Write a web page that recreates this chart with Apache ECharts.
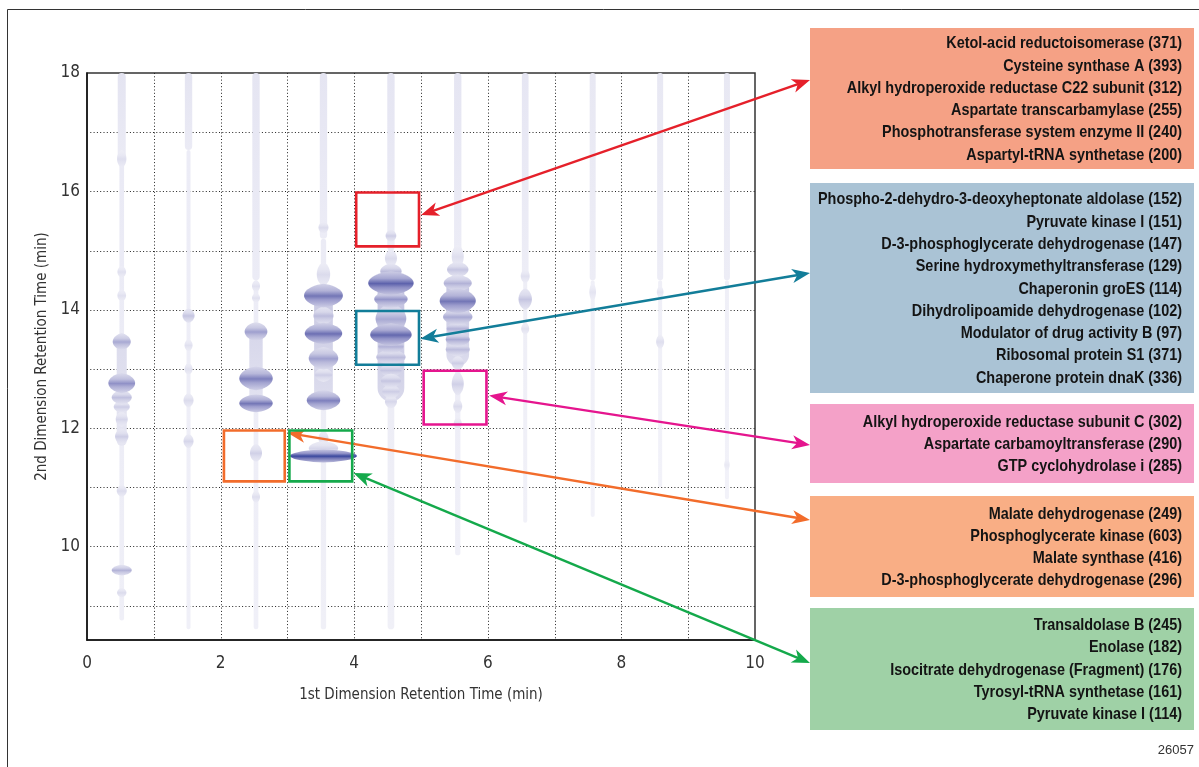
<!DOCTYPE html>
<html><head><meta charset="utf-8">
<script src="https://cdn.jsdelivr.net/npm/echarts@6/dist/echarts.min.js"></script>
<style>html,body{margin:0;padding:0;background:#fff}#c{width:1199px;height:767px}</style>
</head><body><div id="c"></div>
<script>
// ---------------- DATA ----------------
const xTickLabels = [0, 2, 4, 6, 8, 10];
const yTickLabels = [10, 12, 14, 16, 18];
const gridXs = [1, 2, 3, 4, 5, 6, 7, 8, 9];
const gridYs = [9, 10, 11, 12, 13, 14, 15, 16, 17];
const xTitle = '1st Dimension Retention Time (min)';
const yTitle = '2nd Dimension Retention Time (min)';
// modulation streaks: [x, yTop, yBottom, width (min), intensity]
const streaks = [
  [0.52, 18, 16.5, 0.12, 0.15], [0.52, 16.5, 8.75, 0.07, 0.1], [0.52, 13.6, 11.7, 0.15, 0.22],
  [1.52, 18, 16.7, 0.11, 0.15], [1.52, 16.7, 8.6, 0.06, 0.08],
  [2.53, 18, 14.5, 0.11, 0.14], [2.53, 14.5, 8.6, 0.07, 0.08], [2.53, 13.7, 12.3, 0.2, 0.25],
  [3.54, 18, 15.2, 0.11, 0.14], [3.54, 15.2, 8.6, 0.08, 0.09], [3.54, 14.35, 12.35, 0.28, 0.33],
  [4.55, 18, 15.0, 0.11, 0.14], [4.55, 15.0, 8.6, 0.1, 0.09], [4.55, 14.55, 12.45, 0.4, 0.38],
  [5.55, 18, 15.0, 0.11, 0.14], [5.55, 15.0, 9.85, 0.08, 0.08], [5.55, 14.55, 13.05, 0.34, 0.35],
  [6.56, 18, 14.6, 0.1, 0.13], [6.56, 14.6, 10.4, 0.06, 0.07],
  [7.57, 18, 14.5, 0.09, 0.12], [7.57, 14.5, 10.5, 0.06, 0.06],
  [8.58, 18, 14.5, 0.09, 0.12], [8.58, 14.5, 11.0, 0.06, 0.06],
  [9.58, 18, 14.5, 0.09, 0.12], [9.58, 14.5, 10.8, 0.06, 0.06]
];
// peaks: [x, y, halfWidth (min), halfHeight (min), intensity]
const peaks = [
  [0.52, 16.55, 0.07, 0.15, 0.2], [0.52, 14.64, 0.065, 0.1, 0.18], [0.52, 14.24, 0.065, 0.1, 0.18],
  [0.52, 13.46, 0.135, 0.14, 0.5], [0.52, 12.76, 0.2, 0.17, 0.62], [0.52, 12.52, 0.15, 0.12, 0.38],
  [0.52, 12.36, 0.12, 0.1, 0.3], [0.52, 12.15, 0.09, 0.13, 0.25], [0.52, 11.86, 0.1, 0.13, 0.3],
  [0.52, 10.94, 0.075, 0.1, 0.22], [0.52, 9.6, 0.15, 0.09, 0.45], [0.52, 9.22, 0.07, 0.08, 0.22],
  [1.52, 13.9, 0.09, 0.12, 0.35], [1.52, 13.4, 0.06, 0.1, 0.18], [1.52, 13.0, 0.06, 0.1, 0.18],
  [1.52, 12.47, 0.075, 0.12, 0.22], [1.52, 11.78, 0.075, 0.12, 0.25],
  [2.53, 14.4, 0.06, 0.1, 0.18], [2.53, 14.2, 0.06, 0.08, 0.18], [2.53, 13.63, 0.17, 0.16, 0.55],
  [2.53, 12.84, 0.25, 0.2, 0.7], [2.53, 12.42, 0.25, 0.15, 0.75], [2.53, 11.58, 0.09, 0.15, 0.28],
  [2.53, 10.84, 0.06, 0.1, 0.2],
  [3.54, 15.39, 0.075, 0.1, 0.22], [3.54, 14.6, 0.1, 0.2, 0.22], [3.54, 14.24, 0.29, 0.2, 0.75],
  [3.54, 13.9, 0.15, 0.15, 0.4], [3.54, 13.6, 0.28, 0.18, 0.78], [3.54, 13.18, 0.22, 0.19, 0.55],
  [3.54, 12.9, 0.13, 0.12, 0.3], [3.54, 12.47, 0.25, 0.17, 0.7], [3.54, 11.83, 0.075, 0.12, 0.22],
  [3.54, 11.66, 0.22, 0.12, 0.25], [3.54, 11.53, 0.5, 0.11, 1.0],
  [4.55, 15.25, 0.08, 0.1, 0.3], [4.55, 14.87, 0.09, 0.15, 0.22], [4.55, 14.65, 0.16, 0.13, 0.4],
  [4.55, 14.45, 0.34, 0.2, 0.85], [4.55, 14.18, 0.25, 0.15, 0.6], [4.55, 13.85, 0.23, 0.25, 0.5],
  [4.55, 13.58, 0.31, 0.19, 0.82], [4.55, 13.38, 0.19, 0.12, 0.45], [4.55, 13.2, 0.22, 0.13, 0.4],
  [4.55, 12.98, 0.16, 0.12, 0.35], [4.55, 12.8, 0.15, 0.12, 0.35], [4.55, 12.62, 0.13, 0.12, 0.3],
  [4.55, 12.45, 0.09, 0.12, 0.25],
  [5.55, 14.9, 0.09, 0.2, 0.2], [5.55, 14.68, 0.16, 0.13, 0.35], [5.55, 14.45, 0.21, 0.14, 0.45],
  [5.55, 14.15, 0.27, 0.21, 0.75], [5.55, 13.88, 0.22, 0.14, 0.5], [5.55, 13.68, 0.165, 0.12, 0.45],
  [5.55, 13.5, 0.18, 0.12, 0.5], [5.55, 13.33, 0.18, 0.12, 0.4], [5.55, 13.1, 0.09, 0.12, 0.3],
  [5.55, 12.75, 0.09, 0.2, 0.28], [5.55, 12.37, 0.067, 0.12, 0.22], [5.55, 12.08, 0.06, 0.1, 0.2],
  [6.56, 14.57, 0.067, 0.12, 0.18], [6.56, 14.18, 0.1, 0.18, 0.35], [6.56, 13.68, 0.06, 0.1, 0.18],
  [7.57, 14.3, 0.05, 0.15, 0.15],
  [8.58, 14.3, 0.05, 0.1, 0.15], [8.58, 13.46, 0.06, 0.12, 0.2],
  [9.58, 11.38, 0.04, 0.1, 0.12]
];
// highlighted regions: [x0, x1, y0, y1]
const regionBoxes = [
  [4.03, 4.97, 15.07, 15.98],
  [4.03, 4.97, 13.07, 13.98],
  [5.04, 5.98, 12.06, 12.97],
  [2.05, 2.96, 11.10, 11.96],
  [3.03, 3.97, 11.10, 11.96]
];
// arrow anchor points at the regions: [x, y]
const arrowTips = [[5.0, 15.6], [4.99, 13.51], [6.02, 12.55], [3.0, 11.92], [3.99, 11.24]];
const regionColors = ['#E5202A', '#127D99', '#E5158E', '#F26C2B', '#14A94B'];
const legendColors = ['#F5A185', '#AAC3D5', '#F4A1C8', '#F9AE85', '#9FD1A6'];
const groupRed = ['Ketol-acid reductoisomerase (371)', 'Cysteine synthase A (393)', 'Alkyl hydroperoxide reductase C22 subunit (312)', 'Aspartate transcarbamylase (255)', 'Phosphotransferase system enzyme II (240)', 'Aspartyl-tRNA synthetase (200)'];
const groupTeal = ['Phospho-2-dehydro-3-deoxyheptonate aldolase (152)', 'Pyruvate kinase I (151)', 'D-3-phosphoglycerate dehydrogenase (147)', 'Serine hydroxymethyltransferase (129)', 'Chaperonin groES (114)', 'Dihydrolipoamide dehydrogenase (102)', 'Modulator of drug activity B (97)', 'Ribosomal protein S1 (371)', 'Chaperone protein dnaK (336)'];
const groupMagenta = ['Alkyl hydroperoxide reductase subunit C (302)', 'Aspartate carbamoyltransferase (290)', 'GTP cyclohydrolase i (285)'];
const groupOrange = ['Malate dehydrogenase (249)', 'Phosphoglycerate kinase (603)', 'Malate synthase (416)', 'D-3-phosphoglycerate dehydrogenase (296)'];
const groupGreen = ['Transaldolase B (245)', 'Enolase (182)', 'Isocitrate dehydrogenase (Fragment) (176)', 'Tyrosyl-tRNA synthetase (161)', 'Pyruvate kinase I (114)'];
const figureId = '26057';

// ---------------- LAYOUT / STYLE ----------------
const groups = [groupRed, groupTeal, groupMagenta, groupOrange, groupGreen];
const FONT = '"DejaVu Sans Condensed","Liberation Sans Narrow",sans-serif';
const LEG_FONT = 'bold 16.5px "Liberation Sans", Arial, sans-serif';
const X_MIN = 0, X_MAX = 10, Y_MIN = 8.42, Y_MAX = 18;
const legendLeft = 810, legendWidth = 384, textRight = 1182, lineH = 22.3;
const legendTops = [28, 183, 404, 496, 608];
const legendHeights = [141, 210, 79, 101, 122];
const arrowTargetY = [80, 273, 445, 520, 663];
const widestLinePx = 364; // width of the longest legend line in the reference

const mctx = document.createElement('canvas').getContext('2d');
mctx.font = LEG_FONT;
const legScaleX = widestLinePx / mctx.measureText(groupTeal[0]).width;

const ramp = [[0, [246, 246, 251]], [0.2, [222, 222, 238]], [0.4, [188, 188, 220]], [0.6, [148, 149, 201]], [0.8, [104, 107, 176]], [1.0, [58, 72, 158]]];
function shade(s) {
  s = Math.max(0, Math.min(1, s));
  for (let i = 1; i < ramp.length; i++) {
    if (s <= ramp[i][0]) {
      const a = ramp[i - 1], b = ramp[i], t = (s - a[0]) / (b[0] - a[0]);
      const c = a[1].map((v, k) => Math.round(v + (b[1][k] - v) * t));
      return 'rgb(' + c.join(',') + ')';
    }
  }
  return 'rgb(58,72,158)';
}

const chart = echarts.init(document.getElementById('c'), null, { renderer: 'canvas' });

function gridRender(params, api) {
  const cs = params.coordSys;
  const dir = api.value(0), v = api.value(1);
  let shape;
  if (dir === 0) {
    const x = Math.round(api.coord([v, Y_MIN])[0]) + 0.5;
    shape = { x1: x, y1: cs.y, x2: x, y2: cs.y + cs.height };
  } else {
    const y = Math.round(api.coord([X_MIN, v])[1]) + 0.5;
    shape = { x1: cs.x, y1: y, x2: cs.x + cs.width, y2: y };
  }
  return { type: 'line', shape, style: { stroke: '#222', lineWidth: 1, lineDash: [1, 2.3] }, silent: true };
}
const gridData = gridXs.map(v => [0, v]).concat(gridYs.map(v => [1, v]));

function streakRender(params, api) {
  const x = api.value(0), yt = api.value(1), yb = api.value(2), w = api.value(3), s = api.value(4);
  const p1 = api.coord([x, yt]), p2 = api.coord([x, yb]);
  const pw = api.size([w, 0])[0];
  return {
    type: 'rect', shape: { x: p1[0] - pw / 2, y: p1[1], width: pw, height: p2[1] - p1[1], r: pw / 2 },
    style: { fill: new echarts.graphic.LinearGradient(0, 0, 0, 1, [{ offset: 0, color: shade(s) }, { offset: 1, color: shade(s * 0.6) }]) },
    silent: true
  };
}

function peakRender(params, api) {
  const x = api.value(0), y = api.value(1), hw = api.value(2), hh = api.value(3), s = api.value(4);
  const c = api.coord([x, y]);
  const pw = api.size([hw, 0])[0], ph = api.size([0, hh])[1];
  const N = 24, right = [], left = [];
  for (let i = 0; i <= N; i++) {
    const t = -1 + 2 * i / N;
    const f = Math.pow(1 - t * t, 0.65);
    right.push([c[0] + pw * f, c[1] + ph * t]);
    left.unshift([c[0] - pw * f, c[1] + ph * t]);
  }
  return {
    type: 'polygon', shape: { points: right.concat(left) },
    style: {
      fill: new echarts.graphic.LinearGradient(0, 0, 0, 1, [
        { offset: 0, color: shade(s * 0.35) }, { offset: 0.3, color: shade(s * 0.6) },
        { offset: 0.52, color: shade(s) }, { offset: 0.68, color: shade(s * 0.75) }, { offset: 1, color: shade(s * 0.4) }])
    },
    silent: true
  };
}

function arrowHead(tip, from) {
  const dx = tip[0] - from[0], dy = tip[1] - from[1], L = Math.hypot(dx, dy);
  const ux = dx / L, uy = dy / L, nx = -uy, ny = ux;
  const len = 18, hw = 7, notch = 5;
  const bx = tip[0] - ux * len, by = tip[1] - uy * len;
  return [tip, [bx + nx * hw, by + ny * hw], [tip[0] - ux * (len - notch), tip[1] - uy * (len - notch)], [bx - nx * hw, by - ny * hw]];
}

function regionRender(params, api) {
  const i = params.dataIndex;
  const col = regionColors[i];
  const a = api.coord([api.value(0), api.value(2)]), bb = api.coord([api.value(1), api.value(3)]);
  const x0 = Math.min(a[0], bb[0]), y0 = Math.min(a[1], bb[1]);
  const w = Math.abs(bb[0] - a[0]), h = Math.abs(bb[1] - a[1]);
  const tipA = api.coord([api.value(4), api.value(5)]);
  const tipB = [legendLeft, arrowTargetY[i]];
  const dx = tipB[0] - tipA[0], dy = tipB[1] - tipA[1], L = Math.hypot(dx, dy);
  const ux = dx / L, uy = dy / L, back = 12;
  return {
    type: 'group', silent: true,
    children: [
      { type: 'rect', shape: { x: x0, y: y0, width: w, height: h }, style: { fill: null, stroke: col, lineWidth: 2.6 } },
      { type: 'line', shape: { x1: tipA[0] + ux * back, y1: tipA[1] + uy * back, x2: tipB[0] - ux * back, y2: tipB[1] - uy * back }, style: { stroke: col, lineWidth: 2.4 } },
      { type: 'polygon', shape: { points: arrowHead(tipA, tipB) }, style: { fill: col } },
      { type: 'polygon', shape: { points: arrowHead(tipB, tipA) }, style: { fill: col } }
    ]
  };
}
const regionData = regionBoxes.map((b, i) => [b[0], b[1], b[2], b[3], arrowTips[i][0], arrowTips[i][1]]);

const graphics = [
  { type: 'rect', shape: { x: 7.5, y: 9.5, width: 1300, height: 900 }, style: { fill: null, stroke: '#333', lineWidth: 1 }, silent: true, z: -10 },
  { type: 'text', x: 1194, y: 750, style: { text: figureId, font: '13px "Liberation Sans", Arial, sans-serif', fill: '#333', align: 'right', verticalAlign: 'middle' }, silent: true }
];
groups.forEach((g, i) => {
  graphics.push({ type: 'rect', shape: { x: legendLeft, y: legendTops[i], width: legendWidth, height: legendHeights[i] }, style: { fill: legendColors[i] }, z: 50, silent: true });
  graphics.push({ type: 'text', x: textRight, y: legendTops[i] + legendHeights[i] / 2 + 1, scaleX: legScaleX, z: 51, silent: true,
    style: { text: g.join('\n'), font: LEG_FONT, fill: '#141414', align: 'right', verticalAlign: 'middle', lineHeight: lineH } });
});

chart.setOption({
  animation: false,
  backgroundColor: '#fff',
  grid: { left: 87, right: 1199 - 755, top: 73, bottom: 767 - 640, show: true, borderColor: '#333', borderWidth: 1.5, backgroundColor: 'transparent' },
  xAxis: {
    type: 'value', min: X_MIN, max: X_MAX, interval: 2,
    name: xTitle, nameLocation: 'middle', nameGap: 48,
    nameTextStyle: { fontFamily: FONT, fontSize: 15, color: '#333' },
    axisLine: { show: true, lineStyle: { color: '#111', width: 1.5 } },
    axisTick: { show: false }, splitLine: { show: false },
    axisLabel: { fontFamily: FONT, fontSize: 17, color: '#333', margin: 15 }
  },
  yAxis: {
    type: 'value', min: Y_MIN, max: Y_MAX,
    name: yTitle, nameLocation: 'middle', nameGap: 25, nameRotate: 90,
    nameTextStyle: { fontFamily: FONT, fontSize: 15, color: '#333' },
    axisLine: { show: true, lineStyle: { color: '#111', width: 1.5 } },
    axisTick: { show: false }, splitLine: { show: false },
    axisLabel: { fontFamily: FONT, fontSize: 17, color: '#333', margin: 7, customValues: yTickLabels }
  },
  graphic: { elements: graphics },
  series: [
    { type: 'custom', name: 'grid', renderItem: gridRender, data: gridData, z: 1, clip: false, silent: true },
    { type: 'custom', name: 'streaks', renderItem: streakRender, data: streaks, z: 2, silent: true },
    { type: 'custom', name: 'peaks', renderItem: peakRender, data: peaks.slice().sort((a, b) => a[4] - b[4]), z: 3, silent: true },
    { type: 'custom', name: 'regions', renderItem: regionRender, data: regionData, z: 5, clip: false, silent: true }
  ]
});
</script>
</body></html>
